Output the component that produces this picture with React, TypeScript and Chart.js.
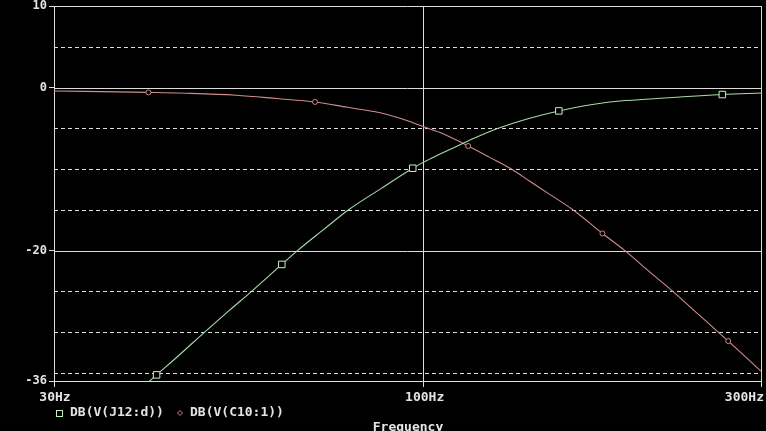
import React, { useEffect, useRef } from "react";
import { Chart, registerables } from "chart.js";

Chart.register(...registerables);

// ---- data ----
const greenFreq = [40, 41.9, 45, 49, 53, 57.1, 63, 66.3, 72, 78.3, 87, 96.5, 100, 105.3, 112, 118, 127.5, 140, 155.3, 181, 225, 264.5, 300];
const greenDb = [-36.8, -35.25, -32.9, -30, -27.4, -25, -21.7, -20, -17.5, -15, -12.4, -9.9, -9.15, -8.2, -7.1, -6.2, -5.0, -3.85, -2.87, -1.84, -1.23, -0.86, -0.68];
const greenMarkers = [41.9, 63, 96.5, 155.3, 264.5];

const redFreq = [30, 40.8, 46.2, 54.3, 62, 70.2, 78, 86.5, 92.6, 100, 105.3, 115.6, 124, 133.1, 141.3, 150, 162.6, 179, 192.6, 208, 225.1, 242, 261, 269.6, 285, 300];
const redDb = [-0.42, -0.6, -0.7, -0.94, -1.35, -1.77, -2.43, -3.07, -3.77, -4.8, -5.5, -7.17, -8.57, -10, -11.5, -12.98, -15, -17.9, -20, -22.5, -25, -27.45, -30, -31.1, -33.0, -34.8];
const redMarkers = [40.8, 70.2, 115.6, 179, 269.6];

const seriesLabels = ["DB(V(J12:d))", "DB(V(C10:1))"];
const xTickValues = [30, 100, 300];
const xTickLabels = ["30Hz", "100Hz", "300Hz"];
const yTickValues = [-36, -20, 0, 10];
const yGridSolid = [0, -20];
const yGridDashed = [5, -5, -10, -15, -25, -30, -35];
const xTitle = "Frequency";

// ---- styles ----
const GRID = "#dcdcdc";
const TEXT = "#e4e4e4";
const GREEN = "#a8dca8";
const GREEN_MARK = "#c4f0c4";
const RED = "#d08c8c";
const RED_MARK = "#c88888";
const FONT = "'DejaVu Sans Mono', 'Liberation Mono', monospace";

const pspicePlugin = {
  id: "pspice",
  beforeDatasetsDraw(chart: any) {
    const { ctx, chartArea: a, scales } = chart;
    const y = scales.y;
    ctx.save();
    ctx.lineWidth = 1;
    ctx.strokeStyle = GRID;
    ctx.setLineDash([4, 3]);
    for (const v of yGridDashed) {
      const py = Math.round(y.getPixelForValue(v)) + 0.5;
      ctx.beginPath();
      ctx.moveTo(a.left, py);
      ctx.lineTo(a.right, py);
      ctx.stroke();
    }
    ctx.setLineDash([]);
    for (const v of yGridSolid) {
      const py = Math.round(y.getPixelForValue(v)) + 0.5;
      ctx.beginPath();
      ctx.moveTo(a.left, py);
      ctx.lineTo(a.right, py);
      ctx.stroke();
    }
    // top and right borders
    ctx.beginPath();
    ctx.moveTo(a.left, Math.round(a.top) + 0.5);
    ctx.lineTo(Math.round(a.right) + 0.5, Math.round(a.top) + 0.5);
    ctx.lineTo(Math.round(a.right) + 0.5, Math.round(a.bottom) + 6);
    ctx.stroke();
    ctx.restore();
  },
  afterDraw(chart: any) {
    const { ctx, chartArea: a, scales } = chart;
    const x = scales.x;
    ctx.save();
    ctx.fillStyle = TEXT;
    ctx.font = `bold 13px ${FONT}`;
    ctx.textBaseline = "middle";
    // x tick labels
    xTickValues.forEach((v, i) => {
      const px = x.getPixelForValue(v);
      if (i === xTickValues.length - 1) {
        ctx.textAlign = "right";
        ctx.fillText(xTickLabels[i], px + 3, a.bottom + 17);
      } else {
        ctx.textAlign = "center";
        ctx.fillText(xTickLabels[i], px + 1, a.bottom + 17);
      }
    });
    // legend
    ctx.textAlign = "left";
    ctx.lineWidth = 1;
    ctx.strokeStyle = GREEN_MARK;
    ctx.strokeRect(56.5, 410.5, 6, 6);
    ctx.fillText(seriesLabels[0], 70, 413);
    ctx.strokeStyle = RED_MARK;
    ctx.beginPath();
    ctx.moveTo(180, 410.5);
    ctx.lineTo(182.5, 413);
    ctx.lineTo(180, 415.5);
    ctx.lineTo(177.5, 413);
    ctx.closePath();
    ctx.stroke();
    ctx.fillText(seriesLabels[1], 190, 413);
    // axis title
    ctx.textAlign = "center";
    ctx.fillText(xTitle, 408, 428);
    ctx.restore();
  },
};

export default function App() {
  const ref = useRef<HTMLCanvasElement | null>(null);

  useEffect(() => {
    if (!ref.current) return;
    const chart = new Chart(ref.current, {
      type: "line",
      data: {
        datasets: [
          {
            label: seriesLabels[0],
            data: greenFreq.map((f, i) => ({ x: f, y: greenDb[i] })),
            borderColor: GREEN,
            borderWidth: 1.1,
            cubicInterpolationMode: "monotone",
            pointStyle: "rect",
            pointRadius: (c: any) => (greenMarkers.includes(c.raw?.x) ? 4.6 : 0),
            pointBorderColor: GREEN_MARK,
            pointBackgroundColor: "#000",
            pointBorderWidth: 1,
            fill: false,
          },
          {
            label: seriesLabels[1],
            data: redFreq.map((f, i) => ({ x: f, y: redDb[i] })),
            borderColor: RED,
            borderWidth: 1.1,
            cubicInterpolationMode: "monotone",
            pointStyle: "circle",
            pointRadius: (c: any) => (redMarkers.includes(c.raw?.x) ? 2.5 : 0),
            pointBorderColor: RED_MARK,
            pointBackgroundColor: "#000",
            pointBorderWidth: 1,
            fill: false,
          },
        ],
      },
      options: {
        responsive: false,
        animation: false,
        events: [],
        layout: { padding: { top: 6, right: 5, left: 0, bottom: 0 } },
        plugins: { legend: { display: false }, tooltip: { enabled: false } },
        scales: {
          x: {
            type: "logarithmic",
            min: 30,
            max: 300,
            afterBuildTicks: (s: any) => {
              s.ticks = xTickValues.map((v) => ({ value: v }));
            },
            afterFit: (s: any) => {
              s.height = 50;
              s.paddingLeft = 0;
              s.paddingRight = 0;
              s.paddingTop = 0;
              s.paddingBottom = 0;
            },
            ticks: { display: false },
            grid: { color: GRID, lineWidth: 1, drawTicks: true, tickLength: 6, tickColor: GRID },
            border: { display: true, color: GRID, width: 1 },
          },
          y: {
            type: "linear",
            min: -36,
            max: 10,
            afterBuildTicks: (s: any) => {
              s.ticks = yTickValues.map((v) => ({ value: v }));
            },
            afterFit: (s: any) => {
              s.width = 54;
              s.paddingLeft = 0;
              s.paddingRight = 0;
              s.paddingTop = 0;
              s.paddingBottom = 0;
            },
            ticks: {
              color: TEXT,
              padding: 2,
              font: { family: FONT, size: 12, weight: "bold" },
              callback: (v: any) => String(v),
            },
            grid: { drawOnChartArea: false, drawTicks: true, tickLength: 5, color: GRID, tickColor: GRID },
            border: { display: true, color: GRID, width: 1 },
          },
        },
      } as any,
      plugins: [pspicePlugin],
    });
    return () => chart.destroy();
  }, []);

  return (
    <div style={{ position: "fixed", left: 0, top: 0, width: 766, height: 431, background: "#000" }}>
      <canvas ref={ref} width={766} height={431} style={{ display: "block", background: "#000" }} />
    </div>
  );
}
